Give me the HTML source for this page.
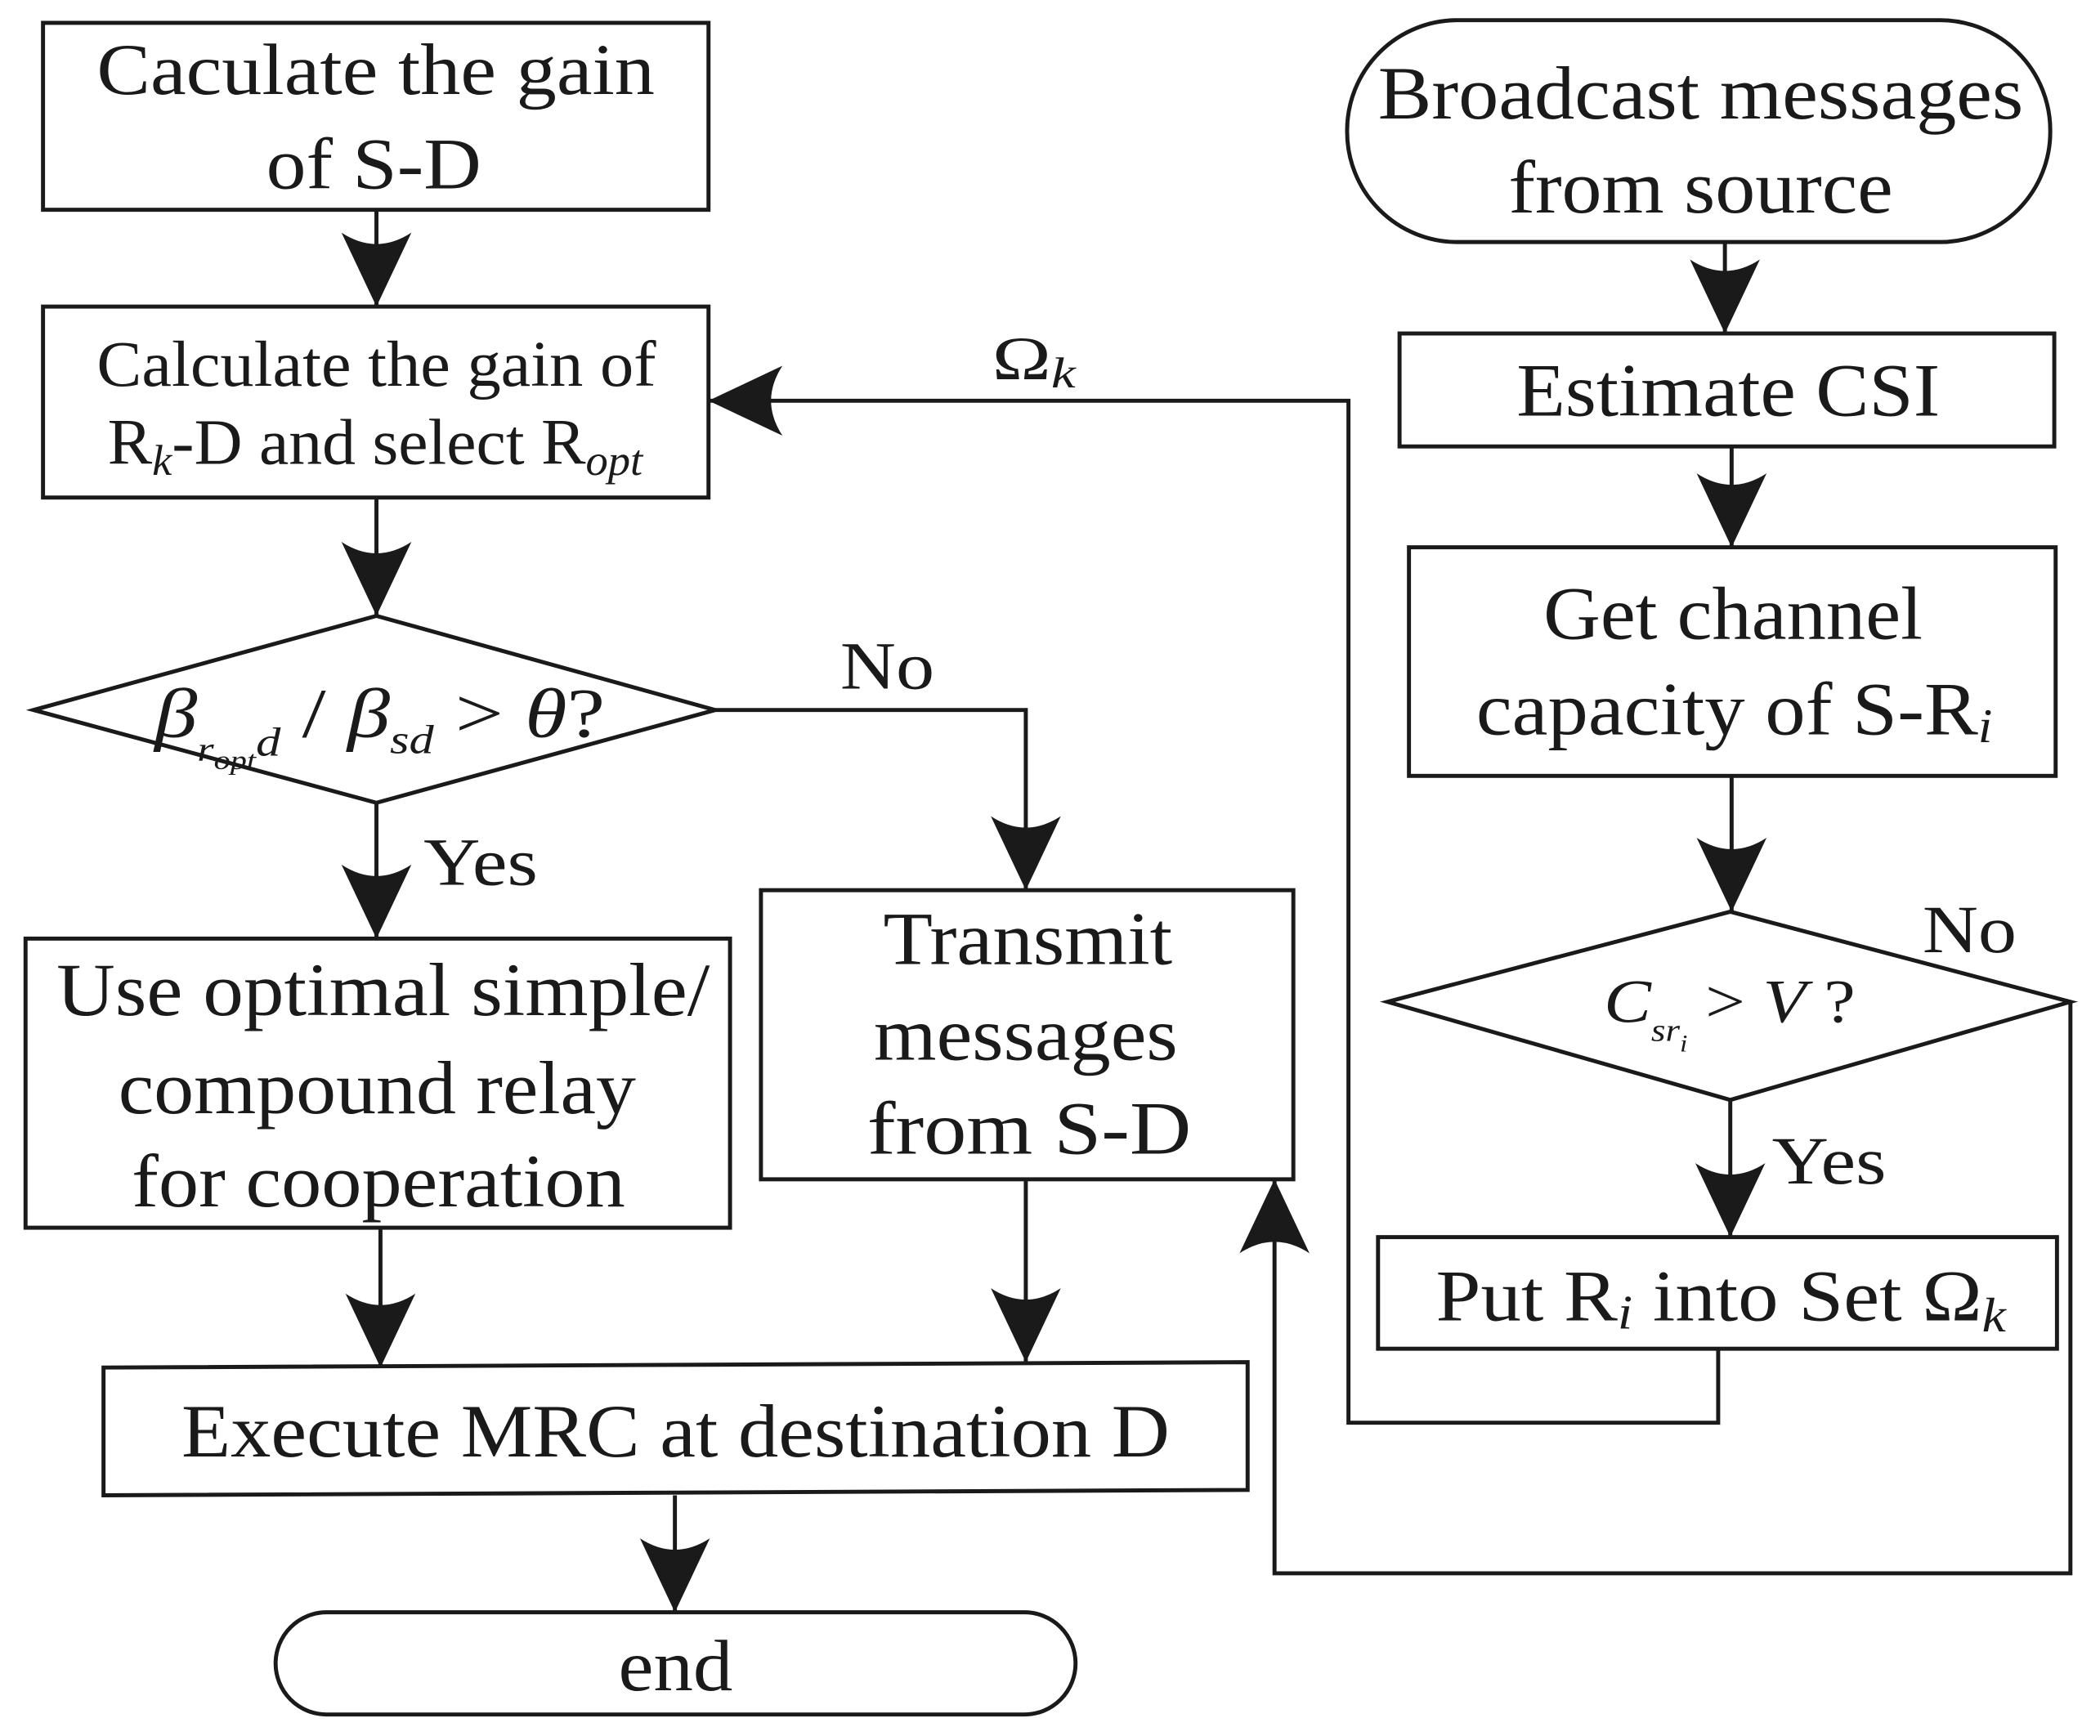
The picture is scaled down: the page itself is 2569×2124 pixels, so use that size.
<!DOCTYPE html>
<html><head><meta charset="utf-8"><style>
html,body{margin:0;padding:0;background:#fff;}
svg{display:block;}
text{font-family:"Liberation Serif",serif;fill:#1a1a1a;}
</style></head><body>
<svg width="2569" height="2124" viewBox="0 0 1562 1291" preserveAspectRatio="none" xmlns="http://www.w3.org/2000/svg">
<defs>
<path id="ad" d="M0,0 L-26,-55 Q0,-38 26,-55 Z" fill="#1a1a1a"/>
</defs>
<g fill="none" stroke="#1a1a1a" stroke-width="3">
<rect x="32" y="17" width="495" height="139"/>
<rect x="32" y="228" width="495" height="142"/>
<polygon points="25,528 280,458 532,528 280,597"/>
<rect x="19" y="698" width="524" height="215"/>
<rect x="566" y="662" width="396" height="215"/>
<polygon points="77,1017 928,1013 928,1108 77,1112"/>
<rect x="205" y="1199" width="595" height="76" rx="38"/>
<rect x="1002" y="15" width="523" height="165" rx="82"/>
<rect x="1041" y="248" width="487" height="84"/>
<rect x="1048" y="407" width="481" height="170"/>
<polygon points="1032,745 1287,678 1540,745 1287,818"/>
<rect x="1025" y="920" width="505" height="83"/>
<!-- connectors -->
<path d="M280,156 V228"/>
<path d="M280,370 V458"/>
<path d="M532,528 H763 V662"/>
<path d="M280,597 V698"/>
<path d="M283,913 V1017"/>
<path d="M763,877 V1013"/>
<path d="M502,1112 V1199"/>
<path d="M1283,180 V248"/>
<path d="M1288,332 V407"/>
<path d="M1288,577 V678"/>
<path d="M1287,818 V920"/>
<path d="M1278,1003 V1058 H1003 V298 H527"/>
<path d="M1540,745 V1170 H948 V877"/>
</g>
<use href="#ad" x="280" y="228"/>
<use href="#ad" x="280" y="458"/>
<use href="#ad" x="763" y="662"/>
<use href="#ad" x="280" y="698"/>
<use href="#ad" x="283" y="1017"/>
<use href="#ad" x="763" y="1013"/>
<use href="#ad" x="502" y="1199"/>
<use href="#ad" x="1283" y="248"/>
<use href="#ad" x="1288" y="407"/>
<use href="#ad" x="1288" y="678"/>
<use href="#ad" x="1287" y="920"/>
<use href="#ad" transform="translate(527,298) rotate(90)"/>
<use href="#ad" transform="translate(948,877) rotate(180)"/>

<text x="72" y="70" font-size="54" textLength="415" lengthAdjust="spacingAndGlyphs">Caculate the gain</text>
<text x="198" y="140" font-size="54" textLength="160" lengthAdjust="spacingAndGlyphs">of S-D</text>
<text x="72" y="287" font-size="48" textLength="416" lengthAdjust="spacingAndGlyphs">Calculate the gain of</text>
<text x="80" y="345" font-size="48" textLength="398" lengthAdjust="spacingAndGlyphs">R<tspan font-style="italic" font-size="32" dy="8">k</tspan><tspan dy="-8">-D and select R</tspan><tspan font-style="italic" font-size="32" dy="8">opt</tspan></text>
<text x="115" y="548" font-size="52" font-style="italic" textLength="335" lengthAdjust="spacingAndGlyphs">β<tspan font-size="26" dy="18">r</tspan><tspan font-size="20" dy="6">opt</tspan><tspan font-size="30" dy="-10">d</tspan><tspan dy="-14" font-style="normal"> / </tspan>β<tspan font-size="30" dy="12">sd</tspan><tspan dy="-12" font-style="normal"> &gt; </tspan>θ<tspan font-style="normal">?</tspan></text>
<text x="625" y="512" font-size="50" textLength="70" lengthAdjust="spacingAndGlyphs">No</text>
<text x="315" y="658" font-size="50" textLength="85" lengthAdjust="spacingAndGlyphs">Yes</text>
<text x="42" y="755" font-size="56" textLength="486" lengthAdjust="spacingAndGlyphs">Use optimal simple/</text>
<text x="88" y="828" font-size="56" textLength="385" lengthAdjust="spacingAndGlyphs">compound relay</text>
<text x="98" y="897" font-size="56" textLength="367" lengthAdjust="spacingAndGlyphs">for cooperation</text>
<text x="657" y="717" font-size="56" textLength="215" lengthAdjust="spacingAndGlyphs">Transmit</text>
<text x="650" y="788" font-size="56" textLength="226" lengthAdjust="spacingAndGlyphs">messages</text>
<text x="645" y="858" font-size="56" textLength="241" lengthAdjust="spacingAndGlyphs">from  S-D</text>
<text x="135" y="1083" font-size="56" textLength="735" lengthAdjust="spacingAndGlyphs">Execute MRC at destination D</text>
<text x="460" y="1257" font-size="54" textLength="85" lengthAdjust="spacingAndGlyphs">end</text>
<text x="1025" y="88" font-size="56" textLength="480" lengthAdjust="spacingAndGlyphs">Broadcast messages</text>
<text x="1122" y="158" font-size="56" textLength="286" lengthAdjust="spacingAndGlyphs">from source</text>
<text x="1128" y="309" font-size="56" textLength="315" lengthAdjust="spacingAndGlyphs">Estimate CSI</text>
<text x="1148" y="475" font-size="56" textLength="282" lengthAdjust="spacingAndGlyphs">Get channel</text>
<text x="1098" y="546" font-size="56" textLength="384" lengthAdjust="spacingAndGlyphs">capacity of S-R<tspan font-style="italic" font-size="36" dy="6">i</tspan></text>
<text x="1193" y="760" font-size="46" font-style="italic" textLength="187" lengthAdjust="spacingAndGlyphs">C<tspan font-size="24" dy="14">sr</tspan><tspan font-size="18" dy="8">i</tspan><tspan dy="-22" font-style="normal"> &gt; </tspan>V<tspan font-style="normal"> ?</tspan></text>
<text x="1430" y="708" font-size="50" textLength="70" lengthAdjust="spacingAndGlyphs">No</text>
<text x="1318" y="880" font-size="50" textLength="85" lengthAdjust="spacingAndGlyphs">Yes</text>
<text x="1068" y="982" font-size="54" textLength="424" lengthAdjust="spacingAndGlyphs">Put R<tspan font-style="italic" font-size="36" dy="6">i</tspan><tspan dy="-6"> into Set Ω</tspan><tspan font-style="italic" font-size="36" dy="8">k</tspan></text>
<text x="738" y="282" font-size="46" textLength="62" lengthAdjust="spacingAndGlyphs">Ω<tspan font-style="italic" font-size="32" dy="6">k</tspan></text>
</svg>
</body></html>
